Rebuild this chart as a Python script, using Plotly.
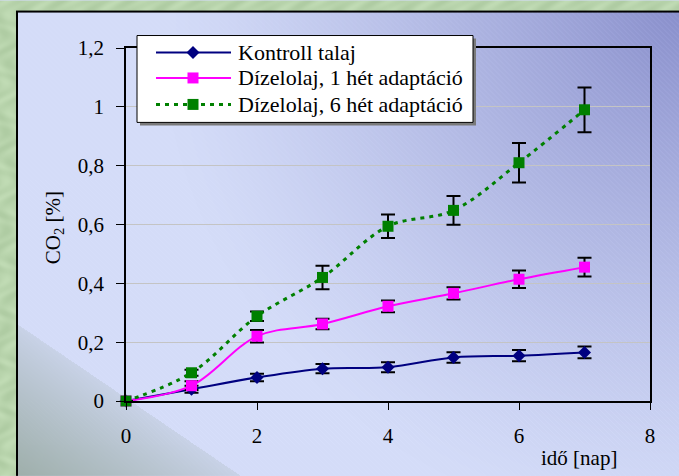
import base64
import struct
import zlib

import numpy as np
import plotly.graph_objects as go

# ---- data -------------------------------------------------------------
days = [0, 1, 2, 3, 4, 5, 6, 7]

kontroll = [0, 0.040, 0.080, 0.110, 0.115, 0.148, 0.154, 0.165]
kontroll_err = [0, 0.012, 0.013, 0.016, 0.017, 0.018, 0.019, 0.020]

dizel_1het = [0, 0.052, 0.220, 0.262, 0.322, 0.366, 0.414, 0.455]
dizel_1het_err = [0, 0.015, 0.021, 0.018, 0.020, 0.021, 0.030, 0.032]

dizel_6het = [0, 0.096, 0.288, 0.420, 0.594, 0.648, 0.810, 0.990]
dizel_6het_err = [0, 0.010, 0.016, 0.040, 0.040, 0.049, 0.067, 0.076]

series_names = ["Kontroll talaj", "Dízelolaj, 1 hét adaptáció", "Dízelolaj, 6 hét adaptáció"]
y_ticks = [0, 0.2, 0.4, 0.6, 0.8, 1.0, 1.2]
x_ticks = [0, 2, 4, 6, 8]

# ---- page geometry (pixels) ---------------------------------------------
W, H = 679, 476
L, R, T, B = 126, 650, 47.5, 401          # plot-area edges
FONT = "Liberation Serif"
NAVY, MAGENTA, GREEN = "#000080", "#FF00FF", "#008000"


def px(x):
    """pixel column -> paper x"""
    return (x - L) / (R - L)


def py(y):
    """pixel row -> paper y"""
    return (B - y) / (B - T)


# ---- background slide image (green texture, lavender panel) -------------
def background_png():
    yy, xx = np.mgrid[0:H, 0:W].astype(float)

    # mottled green outer texture
    base = np.array([184, 212, 172], float)
    mott = 10 * np.sin(xx * 0.23 + 3 * np.sin(yy * 0.13)) * np.cos(yy * 0.19 + xx * 0.05)
    g = base + mott[..., None] * np.array([0.9, 0.8, 0.9])

    # lavender panel, darker towards the top-right corner
    light = np.array([212, 220, 248], float)
    dark = np.array([138, 144, 204], float)
    d = np.hypot(xx - W, yy - 10)
    t = np.clip(1 - d / 520, 0, 1) ** 1.25
    panel = light * (1 - t[..., None]) + dark * t[..., None]

    # fine diagonal hatching
    stripe = ((xx - yy) % 5 < 1).astype(float)
    panel += (stripe * (3 + 7 * t))[..., None]

    # grey-green wedge in the lower-left corner
    line_y = 323 + 0.68 * (xx - 16)
    dist = (yy - line_y) / np.hypot(1, 0.68)
    s = np.where(dist > 0, 0.15 + 0.72 * np.clip(dist / 170, 0, 1) ** 0.9, 0)
    wedge = np.array([136, 156, 138], float)
    panel = panel * (1 - s[..., None]) + wedge * s[..., None]

    in_panel = (xx >= 16) & (yy >= 10)
    img = np.where(in_panel[..., None], panel, g)

    # black panel border (left and top)
    img[10:12, 16:, :] = 0
    img[10:, 16:18, :] = 0

    img = np.clip(img, 0, 255).astype(np.uint8)
    raw = b"".join(b"\x00" + img[r].tobytes() for r in range(H))

    def chunk(tag, data):
        c = struct.pack(">I", len(data)) + tag + data
        return c + struct.pack(">I", zlib.crc32(tag + data) & 0xFFFFFFFF)

    png = (b"\x89PNG\r\n\x1a\n"
           + chunk(b"IHDR", struct.pack(">IIBBBBB", W, H, 8, 2, 0, 0, 0))
           + chunk(b"IDAT", zlib.compress(raw, 9))
           + chunk(b"IEND", b""))
    return "data:image/png;base64," + base64.b64encode(png).decode()


# ---- figure -------------------------------------------------------------
fig = go.Figure()


def add_series(name, y, err, color, symbol, size, dash=None, width=2):
    fig.add_trace(go.Scatter(
        x=days, y=y, name=name, mode="lines+markers",
        line=dict(color=color, width=width, shape="spline", smoothing=1.0, dash=dash),
        marker=dict(color=color, symbol=symbol, size=size, line=dict(width=0)),
        error_y=dict(type="data", array=err, visible=True, color="black", thickness=2, width=7),
        cliponaxis=False, showlegend=False,
    ))


add_series(series_names[0], kontroll, kontroll_err, NAVY, "diamond", 10)
add_series(series_names[1], dizel_1het, dizel_1het_err, MAGENTA, "square", 11)
add_series(series_names[2], dizel_6het, dizel_6het_err, GREEN, "square", 11, dash="4px,5px", width=3)

text_font = dict(family=FONT, size=21, color="black")
legend_font = dict(family=FONT, size=22, color="black")

fig.update_xaxes(
    range=[0, 8], tickvals=x_ticks,
    showgrid=False, zeroline=False,
    showline=True, linecolor="black", linewidth=1.5, mirror=True,
    ticks="outside", ticklen=7, tickcolor="black", tickwidth=1,
    tickfont=text_font, ticklabelstandoff=8,
)
fig.update_yaxes(
    range=[0, 1.2], tickvals=y_ticks,
    showgrid=True, gridcolor="#c4c4c4", gridwidth=1, zeroline=False,
    showline=True, linecolor="black", linewidth=1.5, mirror=True,
    ticks="outside", ticklen=8, tickcolor="black", tickwidth=1,
    tickfont=text_font, ticklabelstandoff=8,
)

# ---- legend box ---------------------------------------------------------
shapes = [
    dict(type="rect", xref="paper", yref="paper",
         x0=px(140), x1=px(476), y0=py(125), y1=py(38),
         fillcolor="#7a7a7a", line=dict(width=0)),
    dict(type="rect", xref="paper", yref="paper",
         x0=px(137), x1=px(473), y0=py(122), y1=py(35),
         fillcolor="white", line=dict(color="black", width=1)),
]
annotations = []
rows = [52, 77.5, 104]
colors = [NAVY, MAGENTA, GREEN]
dashes = ["solid", "solid", "4px,5px"]
widths = [2, 2, 3]
for i, (ry, col) in enumerate(zip(rows, colors)):
    shapes.append(dict(type="line", xref="paper", yref="paper",
                       x0=px(156), x1=px(231), y0=py(ry), y1=py(ry),
                       line=dict(color=col, width=widths[i], dash=dashes[i])))
    cx = 193
    if i == 0:
        r = 6.5
        path = (f"M{px(cx - r)},{py(ry)} L{px(cx)},{py(ry - r)} "
                f"L{px(cx + r)},{py(ry)} L{px(cx)},{py(ry + r)} Z")
        shapes.append(dict(type="path", xref="paper", yref="paper", path=path,
                           fillcolor=col, line=dict(width=0)))
    else:
        h = 5.5
        shapes.append(dict(type="rect", xref="paper", yref="paper",
                           x0=px(cx - h), x1=px(cx + h), y0=py(ry + h), y1=py(ry - h),
                           fillcolor=col, line=dict(width=0)))
    annotations.append(dict(xref="paper", yref="paper", x=px(236), y=py(ry),
                            xanchor="left", yanchor="middle", showarrow=False,
                            text=series_names[i], font=legend_font))

# axis titles
annotations.append(dict(xref="paper", yref="paper", x=px(54), y=py(228),
                        xanchor="center", yanchor="middle", showarrow=False,
                        textangle=-90, text="CO<sub>2</sub> [%]", font=text_font))
annotations.append(dict(xref="paper", yref="paper", x=px(579), y=py(458),
                        xanchor="center", yanchor="middle", showarrow=False,
                        text="idő [nap]", font=text_font))

fig.update_layout(
    width=W, height=H,
    margin=dict(l=L, r=W - R, t=T, b=H - B, autoexpand=False),
    paper_bgcolor="#d4dcf8", plot_bgcolor="white",
    separators=", ",
    showlegend=False,
    shapes=shapes, annotations=annotations,
    images=[dict(source=background_png(), xref="paper", yref="paper",
                 x=px(0), y=py(0), sizex=W / (R - L), sizey=H / (B - T),
                 sizing="stretch", xanchor="left", yanchor="top", layer="below")],
)

fig.write_html("out.html")
